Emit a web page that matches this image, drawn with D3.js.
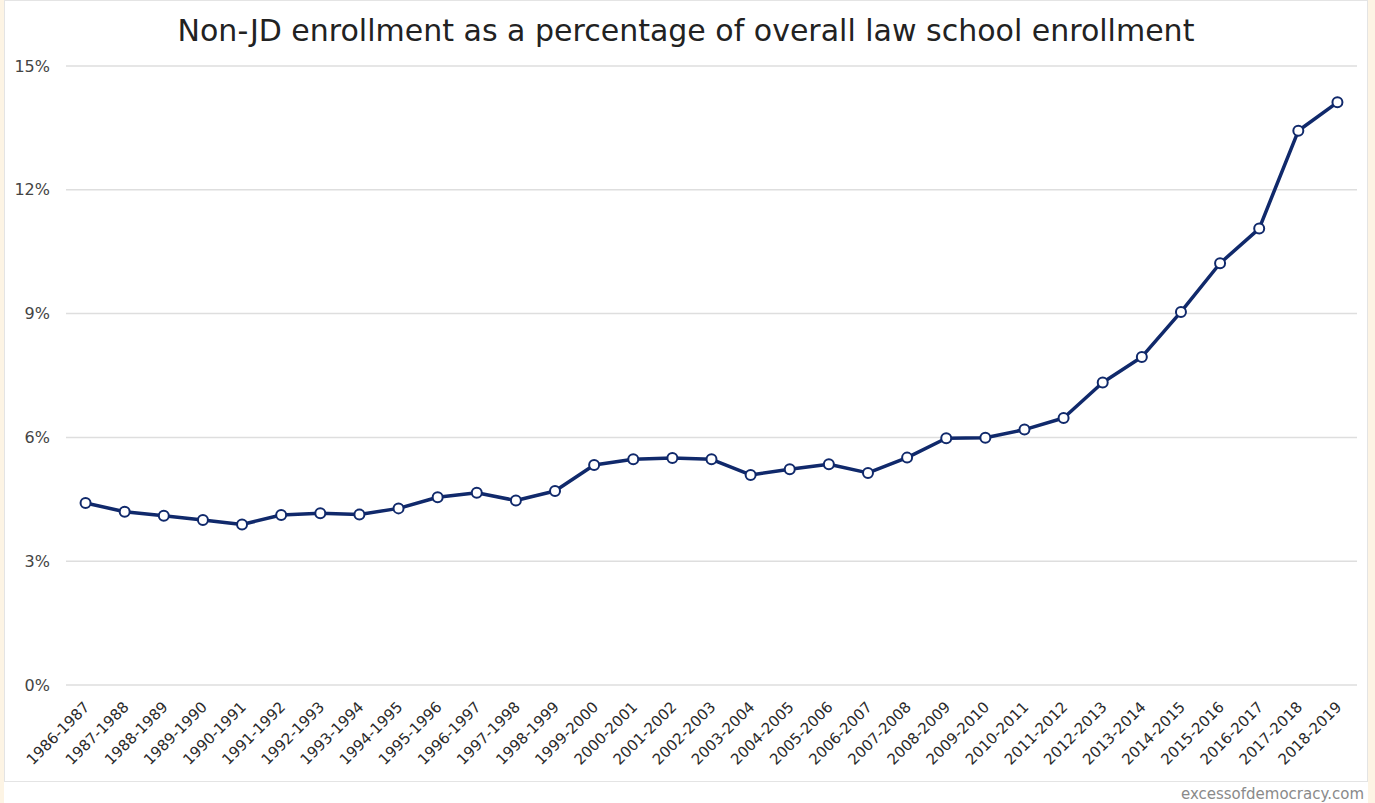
<!DOCTYPE html>
<html>
<head>
<meta charset="utf-8">
<style>
  body { margin: 0; background: #fdf4e4; }
  svg { display: block; font-family: "DejaVu Sans", Verdana, sans-serif; }
  .grid line { stroke: #dedede; stroke-width: 1.5; }
  .axis text { fill: #444; font-size: 16px; }
  .axis.xl text { fill: #2a2a2a; font-size: 15px; }
  .series { fill: none; stroke: #10296b; stroke-width: 3.5; stroke-linejoin: round; }
  .dot { fill: #fff; stroke: #10296b; stroke-width: 2; }
</style>
<script src="https://d3js.org/d3.v7.min.js"></script>
</head>
<body>
<script>
// school years
var years = ["1986-1987","1987-1988","1988-1989","1989-1990","1990-1991","1991-1992",
  "1992-1993","1993-1994","1994-1995","1995-1996","1996-1997","1997-1998","1998-1999",
  "1999-2000","2000-2001","2001-2002","2002-2003","2003-2004","2004-2005","2005-2006",
  "2006-2007","2007-2008","2008-2009","2009-2010","2010-2011","2011-2012","2012-2013",
  "2013-2014","2014-2015","2015-2016","2016-2017","2017-2018","2018-2019"];

// non-JD share of enrollment, percent
var share = [4.41, 4.20, 4.10, 4.00, 3.89, 4.12, 4.16, 4.13, 4.28, 4.55, 4.66, 4.47, 4.70,
  5.33, 5.47, 5.50, 5.47, 5.09, 5.23, 5.35, 5.14, 5.51, 5.98, 5.99, 6.19, 6.47, 7.33,
  7.95, 9.04, 10.22, 11.06, 13.43, 14.12];

var yTicks = [0, 3, 6, 9, 12, 15];

var W = 1375, H = 803;
var svg = d3.select("body").append("svg").attr("width", W).attr("height", H);

// white card
svg.append("rect").attr("x", 4).attr("y", 0).attr("width", 1364).attr("height", H).attr("fill", "#fff");
svg.append("rect").attr("x", 4.5).attr("y", 0.5).attr("width", 1363).attr("height", 781)
  .attr("fill", "none").attr("stroke", "#e4e4e4");

var x = d3.scalePoint().domain(years).range([66, 1357]).padding(0.5);
var y = d3.scaleLinear().domain([0, 15]).range([685, 66]);

svg.append("text")
  .attr("x", 686).attr("y", 41)
  .attr("text-anchor", "middle")
  .style("font-size", "30px").style("fill", "#222")
  .text("Non-JD enrollment as a percentage of overall law school enrollment");

// gridlines
svg.append("g").attr("class", "grid")
  .selectAll("line").data(yTicks).enter().append("line")
  .attr("x1", 66).attr("x2", 1357)
  .attr("y1", function(d) { return y(d); })
  .attr("y2", function(d) { return y(d); });

svg.append("g").attr("class", "axis")
  .selectAll("text").data(yTicks).enter().append("text")
  .attr("x", 50).attr("y", function(d) { return y(d); })
  .attr("dy", "0.35em")
  .attr("text-anchor", "end")
  .text(function(d) { return d + "%"; });

svg.append("g").attr("class", "axis xl")
  .selectAll("text").data(years).enter().append("text")
  .attr("text-anchor", "end")
  .attr("transform", function(d) { return "translate(" + (x(d) + 5) + ",708) rotate(-45)"; })
  .text(function(d) { return d; });

var line = d3.line()
  .x(function(d, i) { return x(years[i]); })
  .y(function(d) { return y(d); });

svg.append("path").datum(share).attr("class", "series").attr("d", line);

svg.selectAll(".dot").data(share).enter().append("circle")
  .attr("class", "dot")
  .attr("cx", function(d, i) { return x(years[i]); })
  .attr("cy", function(d) { return y(d); })
  .attr("r", 5);

svg.append("text")
  .attr("x", 1364).attr("y", 799)
  .attr("text-anchor", "end")
  .style("font-size", "15px").style("fill", "#8a8a8a")
  .text("excessofdemocracy.com");
</script>
</body>
</html>
